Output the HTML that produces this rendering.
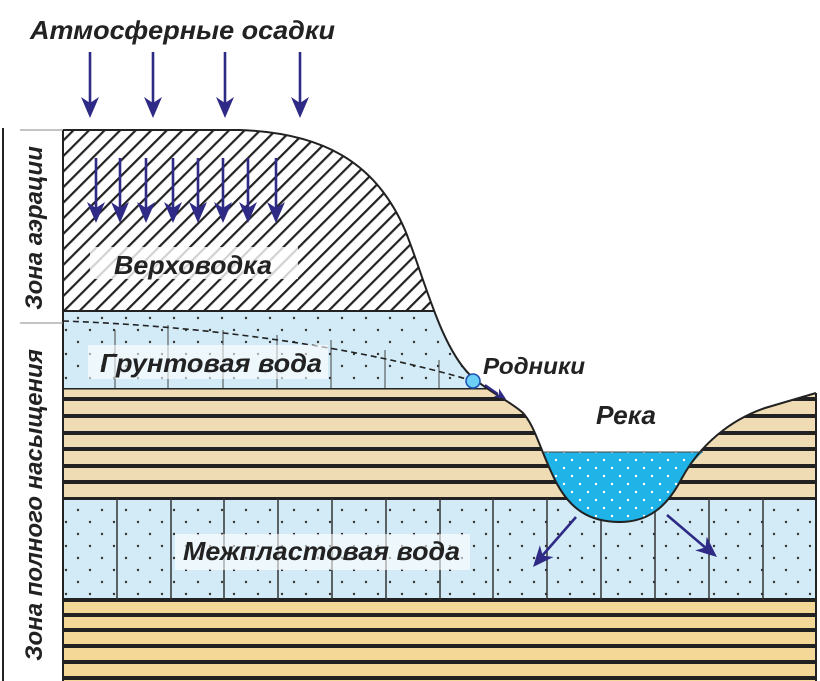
<!DOCTYPE html>
<html><head><meta charset="utf-8"><style>
html,body{margin:0;padding:0;background:#fff}
svg{display:block}
text{font-family:"Liberation Sans","DejaVu Sans",sans-serif;font-weight:bold;font-style:italic;fill:#222}
</style></head><body>
<svg width="820" height="681" viewBox="0 0 820 681" xmlns="http://www.w3.org/2000/svg">
<defs>
<pattern id="hatch" width="11" height="11" patternUnits="userSpaceOnUse" patternTransform="rotate(45)">
<rect width="11" height="11" fill="#fff"/><rect x="0" y="0" width="2.2" height="11" fill="#222"/>
</pattern>
<pattern id="dots" width="24" height="24" patternUnits="userSpaceOnUse">
<circle cx="6" cy="6" r="1.2" fill="#333"/><circle cx="18" cy="18" r="1.2" fill="#333"/>
</pattern>
<pattern id="wdots" width="16" height="16" patternUnits="userSpaceOnUse">
<circle cx="4" cy="4" r="1.2" fill="#fff"/><circle cx="12" cy="12" r="1.2" fill="#fff"/>
</pattern>
<clipPath id="ground">
<path d="M63,130 L240,130 C320,133 375,160 405,230 C425,280 440,345 470,375 C490,393 508,400 522,412 C535,425 540,450 555,480 C570,510 590,522 620,522 C650,522 668,505 682,478 C700,445 730,420 765,408 L816,393 L816,681 L63,681 Z"/>
</clipPath>
<path id="hd" d="M0,0 L-21,-9 L-15,0 L-21,9 Z" fill="#2e2a85"/>
</defs>

<g clip-path="url(#ground)">
<rect x="63" y="120" width="760" height="191" fill="url(#hatch)"/>
<rect x="63" y="311" width="760" height="77" fill="#d2ebf7"/>
<rect x="63" y="311" width="760" height="77" fill="url(#dots)"/>
<g stroke="#444" stroke-width="1"><line x1="115" y1="330" x2="115" y2="388"/><line x1="168" y1="325" x2="168" y2="388"/><line x1="223" y1="330" x2="223" y2="388"/><line x1="277" y1="335" x2="277" y2="388"/><line x1="331" y1="340" x2="331" y2="388"/><line x1="385" y1="350" x2="385" y2="388"/><line x1="439" y1="360" x2="439" y2="388"/></g>
<rect x="63" y="388" width="760" height="110" fill="#efdcb5"/>
<g fill="#222"><rect x="63" y="397" width="760" height="4"/><rect x="63" y="414" width="760" height="4"/><rect x="63" y="431" width="760" height="4"/><rect x="63" y="447" width="760" height="4"/><rect x="63" y="464" width="760" height="4"/><rect x="63" y="480" width="760" height="4"/></g>
<rect x="63" y="388" width="760" height="1.5" fill="#222"/>
<rect x="63" y="498" width="760" height="102" fill="#d2ebf7"/>
<rect x="63" y="498" width="760" height="102" fill="url(#dots)"/>
<rect x="63" y="600" width="760" height="81" fill="#f4d897"/>
<g fill="#222"><rect x="63" y="497" width="760" height="3"/><rect x="63" y="598" width="760" height="4"/><rect x="63" y="613" width="760" height="4"/><rect x="63" y="628" width="760" height="4"/><rect x="63" y="644" width="760" height="4"/><rect x="63" y="660" width="760" height="4"/><rect x="63" y="676" width="760" height="4"/></g>
<g stroke="#333" stroke-width="1.5"><line x1="117" y1="498" x2="117" y2="600"/><line x1="171" y1="498" x2="171" y2="600"/><line x1="224" y1="498" x2="224" y2="600"/><line x1="278" y1="498" x2="278" y2="600"/><line x1="332" y1="498" x2="332" y2="600"/><line x1="386" y1="498" x2="386" y2="600"/><line x1="440" y1="498" x2="440" y2="600"/><line x1="493" y1="498" x2="493" y2="600"/><line x1="547" y1="498" x2="547" y2="600"/><line x1="601" y1="498" x2="601" y2="600"/><line x1="655" y1="498" x2="655" y2="600"/><line x1="709" y1="498" x2="709" y2="600"/><line x1="763" y1="498" x2="763" y2="600"/></g>
<rect x="63" y="310" width="760" height="2" fill="#222"/>
</g>
<path d="M543,452 C548,462 550,470 555,480 C570,510 590,522 620,522 C650,522 668,505 682,478 C690,466 696,458 703,452 Z" fill="#1fb3e8"/>
<path d="M543,452 C548,462 550,470 555,480 C570,510 590,522 620,522 C650,522 668,505 682,478 C690,466 696,458 703,452 Z" fill="url(#wdots)"/>
<path d="M63,130 L240,130 C320,133 375,160 405,230 C425,280 440,345 470,375 C490,393 508,400 522,412 C535,425 540,450 555,480 C570,510 590,522 620,522 C650,522 668,505 682,478 C700,445 730,420 765,408 L816,393" fill="none" stroke="#222" stroke-width="2"/>
<line x1="63" y1="130" x2="63" y2="681" stroke="#222" stroke-width="2"/>
<line x1="816" y1="393" x2="816" y2="681" stroke="#222" stroke-width="2"/>
<line x1="543" y1="452" x2="703" y2="452" stroke="#444" stroke-width="1"/>
<path d="M63,321 C200,326 350,345 470,380" fill="none" stroke="#222" stroke-width="1.6" stroke-dasharray="6,4"/>

<line x1="3" y1="128" x2="3" y2="681" stroke="#222" stroke-width="2"/>
<line x1="20" y1="130" x2="63" y2="130" stroke="#888" stroke-width="1"/>
<line x1="20" y1="323" x2="63" y2="323" stroke="#888" stroke-width="1"/>

<g stroke="#2e2a85" stroke-width="2.6" fill="none">
<line x1="90" y1="52" x2="90" y2="105"/><line x1="153" y1="52" x2="153" y2="105"/><line x1="225" y1="52" x2="225" y2="105"/><line x1="300" y1="52" x2="300" y2="105"/>
<line x1="96" y1="158" x2="96" y2="210"/><line x1="120" y1="158" x2="120" y2="210"/><line x1="146" y1="158" x2="146" y2="210"/><line x1="173" y1="158" x2="173" y2="210"/><line x1="198" y1="158" x2="198" y2="210"/><line x1="223" y1="158" x2="223" y2="210"/><line x1="248" y1="158" x2="248" y2="210"/><line x1="276" y1="158" x2="276" y2="210"/>
<line x1="576" y1="517" x2="542" y2="556"/><line x1="667" y1="515" x2="707" y2="549"/>
<line x1="485" y1="385" x2="498" y2="394" stroke-width="2.2"/>
</g>
<g>
<use href="#hd" transform="translate(90,118) rotate(90)"/><use href="#hd" transform="translate(153,118) rotate(90)"/><use href="#hd" transform="translate(225,118) rotate(90)"/><use href="#hd" transform="translate(300,118) rotate(90)"/>
<use href="#hd" transform="translate(96,223) rotate(90)"/><use href="#hd" transform="translate(120,223) rotate(90)"/><use href="#hd" transform="translate(146,223) rotate(90)"/><use href="#hd" transform="translate(173,223) rotate(90)"/><use href="#hd" transform="translate(198,223) rotate(90)"/><use href="#hd" transform="translate(223,223) rotate(90)"/><use href="#hd" transform="translate(248,223) rotate(90)"/><use href="#hd" transform="translate(276,223) rotate(90)"/>
<use href="#hd" transform="translate(533,567) rotate(130.7)"/>
<use href="#hd" transform="translate(717,557) rotate(40)"/>
<use href="#hd" transform="translate(506,399) rotate(33) scale(0.55)"/>
</g>
<circle cx="473" cy="381" r="7" fill="#6ccff5" stroke="#1d4fb0" stroke-width="1.5"/>

<rect x="90" y="247" width="208" height="32" fill="#fff" opacity="0.8"/>
<rect x="88" y="345" width="240" height="34" fill="#fff" opacity="0.6"/>
<rect x="175" y="534" width="295" height="36" fill="#fff" opacity="0.6"/>
<text x="30" y="39" font-size="26" textLength="305" lengthAdjust="spacingAndGlyphs">Атмосферные осадки</text>
<text x="114" y="274" font-size="26" textLength="158" lengthAdjust="spacingAndGlyphs">Верховодка</text>
<text x="100" y="372" font-size="26" textLength="222" lengthAdjust="spacingAndGlyphs">Грунтовая вода</text>
<text x="183" y="560" font-size="26" textLength="277" lengthAdjust="spacingAndGlyphs">Межпластовая вода</text>
<text x="483" y="374" font-size="23" fill="#111" textLength="102" lengthAdjust="spacingAndGlyphs">Родники</text>
<text x="596" y="424" font-size="26" textLength="60" lengthAdjust="spacingAndGlyphs">Река</text>
<text transform="translate(42,228) rotate(-90)" text-anchor="middle" font-size="24">Зона аэрации</text>
<text transform="translate(42,505) rotate(-90)" text-anchor="middle" font-size="24">Зона полного насыщения</text>
</svg>
</body></html>
